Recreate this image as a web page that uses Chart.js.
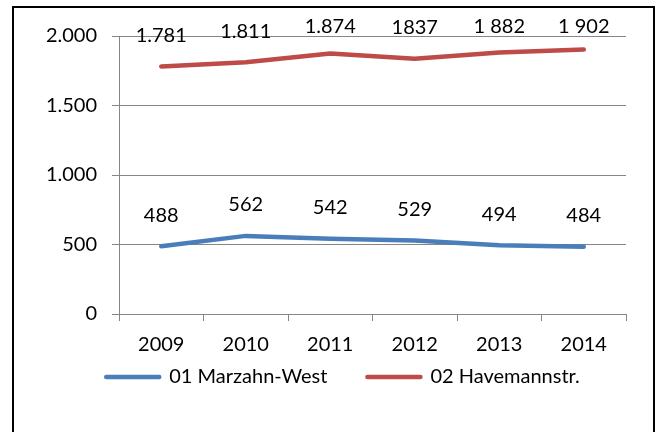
<!DOCTYPE html>
<html>
<head>
<meta charset="utf-8">
<script src="https://cdn.jsdelivr.net/npm/chart.js@4"></script>
<style>
  html, body { margin: 0; padding: 0; background: #fff; overflow: hidden; }
  #frame { position: absolute; left: 12px; top: 6px; width: 639px; height: 480px; border: 2px solid #000; }
  #chart { position: absolute; left: 0; top: 0; }
</style>
</head>
<body>
<div id="frame"></div>
<canvas id="chart" width="658" height="432"></canvas>
<script>
// -- Data --
const years = ['2009', '2010', '2011', '2012', '2013', '2014'];
const marzahnWest = [488, 562, 542, 529, 494, 484];
const havemannstr = [1781, 1811, 1874, 1837, 1882, 1902];
// labels exactly as printed above the points
const marzahnLabels = ['488', '562', '542', '529', '494', '484'];
const havemannLabels = ['1.781', '1.811', '1.874', '1837', '1 882', '1 902'];
const yTicks = [0, 500, 1000, 1500, 2000];
const yTickLabels = ['0', '500', '1.000', '1.500', '2.000'];

const FONT = 'Lato';
const FONT_SIZE = 20;
const GRID = '#868686';

Chart.defaults.font.family = FONT;
Chart.defaults.font.size = FONT_SIZE;
Chart.defaults.color = '#000';

// value labels above each point, kept inside the top of the chart
const valueLabels = {
    id: 'valueLabels',
    afterDatasetsDraw(chart) {
        const ctx = chart.ctx;
        const minY = chart.chartArea.top - 9;
        ctx.save();
        ctx.font = `${FONT_SIZE}px "${FONT}"`;
        ctx.fillStyle = '#000';
        ctx.textAlign = 'center';
        ctx.textBaseline = 'middle';
        chart.data.datasets.forEach((ds, i) => {
            chart.getDatasetMeta(i).data.forEach((pt, j) => {
                ctx.fillText(ds.valueLabels[j], pt.x, Math.max(pt.y - 31, minY));
            });
        });
        ctx.restore();
    }
};

// axis boxes are sized to place the plot; let their tick labels spill out
const widenLabelAreas = {
    id: 'widenLabelAreas',
    afterLayout(chart) {
        chart.scales.y.left = 14;
        chart.scales.x.bottom = 400;
    }
};

new Chart(document.getElementById('chart'), {
    type: 'line',
    data: {
        labels: years,
        datasets: [
            {
                label: '01 Marzahn-West',
                data: marzahnWest,
                valueLabels: marzahnLabels,
                borderColor: '#4a7ebb',
                backgroundColor: '#4a7ebb',
                borderWidth: 4.5,
                borderCapStyle: 'round',
                borderJoinStyle: 'round',
                pointRadius: 0,
                tension: 0
            },
            {
                label: '02 Havemannstr.',
                data: havemannstr,
                valueLabels: havemannLabels,
                borderColor: '#be4b48',
                backgroundColor: '#be4b48',
                borderWidth: 4.5,
                borderCapStyle: 'round',
                borderJoinStyle: 'round',
                pointRadius: 0,
                tension: 0
            }
        ]
    },
    options: {
        responsive: false,
        animation: false,
        layout: { padding: { left: 60, right: 32, top: 36, bottom: 35 } },
        plugins: {
            tooltip: { enabled: false },
            legend: {
                position: 'bottom',
                labels: { boxWidth: 53, boxHeight: 0, padding: 40 }
            }
        },
        scales: {
            x: {
                offset: true,
                grid: { drawOnChartArea: false, drawTicks: true, tickLength: 7, offset: true, color: GRID },
                border: { color: GRID },
                ticks: { padding: 12, maxRotation: 0 },
                afterFit: (scale) => { scale.height = 13; }
            },
            y: {
                min: 0,
                max: 2000,
                ticks: {
                    stepSize: 500,
                    padding: 15,
                    callback: (v) => yTickLabels[yTicks.indexOf(v)]
                },
                grid: { color: GRID, tickLength: 7 },
                border: { color: GRID },
                afterFit: (scale) => { scale.width = 59; }
            }
        }
    },
    plugins: [valueLabels, widenLabelAreas]
});
</script>
</body>
</html>
